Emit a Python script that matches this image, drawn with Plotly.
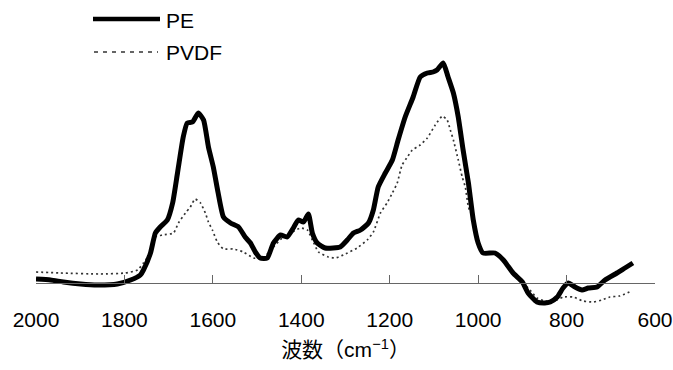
import plotly.graph_objects as go

# Wavenumber (cm^-1) and absorbance-like values (arbitrary units)
pe_wn = [2000, 1967, 1938, 1899, 1861, 1816, 1786, 1764, 1757, 1741, 1730, 1719, 1703, 1691,
         1680, 1667, 1658, 1646, 1633, 1621, 1610, 1599, 1588, 1576, 1560, 1542, 1527, 1515,
         1504, 1493, 1477, 1463, 1447, 1432, 1418, 1407, 1395, 1384, 1375, 1364, 1346, 1328,
         1312, 1296, 1282, 1266, 1248, 1237, 1226, 1210, 1194, 1181, 1165, 1147, 1131, 1115,
         1102, 1093, 1079, 1068, 1056, 1045, 1034, 1022, 1011, 1000, 989, 962, 943, 921, 900,
         887, 867, 849, 837, 821, 808, 796, 781, 765, 751, 731, 713, 686, 668, 650]
pe_val = [0.004, 0.003, 0.001, -0.001, -0.002, -0.001, 0.003, 0.008, 0.013, 0.030, 0.050, 0.056,
          0.063, 0.080, 0.110, 0.146, 0.160, 0.161, 0.170, 0.163, 0.136, 0.116, 0.090, 0.066,
          0.060, 0.056, 0.046, 0.040, 0.031, 0.025, 0.025, 0.040, 0.048, 0.046, 0.055, 0.063,
          0.061, 0.069, 0.050, 0.040, 0.035, 0.035, 0.036, 0.043, 0.050, 0.053, 0.060, 0.073,
          0.096, 0.110, 0.123, 0.143, 0.166, 0.186, 0.206, 0.210, 0.211, 0.213, 0.220, 0.206,
          0.190, 0.166, 0.133, 0.100, 0.063, 0.040, 0.030, 0.030, 0.023, 0.010, 0.001, -0.010,
          -0.019, -0.020, -0.019, -0.014, -0.005, 0.000, -0.004, -0.007, -0.005, -0.004, 0.003,
          0.010, 0.015, 0.020]

pvdf_wn = [2000, 1945, 1854, 1798, 1770, 1757, 1741, 1730, 1714, 1689, 1678, 1662, 1651, 1640,
           1628, 1617, 1610, 1601, 1590, 1576, 1554, 1531, 1508, 1486, 1463, 1441, 1420, 1402,
           1386, 1375, 1361, 1339, 1323, 1305, 1274, 1251, 1237, 1221, 1206, 1194, 1183, 1172,
           1160, 1149, 1131, 1115, 1097, 1081, 1070, 1063, 1056, 1045, 1036, 1029, 1022, 1013,
           1000, 989, 962, 943, 921, 900, 883, 867, 849, 821, 808, 785, 763, 740, 720, 702, 680,
           653]
pvdf_val = [0.011, 0.010, 0.009, 0.010, 0.013, 0.020, 0.030, 0.046, 0.048, 0.050, 0.060, 0.070,
            0.076, 0.084, 0.080, 0.070, 0.061, 0.053, 0.041, 0.034, 0.034, 0.031, 0.025, 0.025,
            0.036, 0.046, 0.051, 0.055, 0.053, 0.043, 0.031, 0.026, 0.025, 0.028, 0.035, 0.043,
            0.051, 0.070, 0.080, 0.090, 0.100, 0.118, 0.126, 0.133, 0.138, 0.145, 0.158, 0.167,
            0.163, 0.153, 0.143, 0.123, 0.106, 0.096, 0.076, 0.066, 0.041, 0.031, 0.030, 0.023,
            0.011, 0.001, -0.007, -0.015, -0.018, -0.017, -0.014, -0.014, -0.018, -0.019, -0.017,
            -0.014, -0.013, -0.008]

x_ticks = [2000, 1800, 1600, 1400, 1200, 1000, 800, 600]
series_names = ["PE", "PVDF"]

W, H = 673, 370
ML, MR, MT, MB = 36, 18, 50, 55
plot_w = W - ML - MR
plot_h = H - MT - MB
axis_px = 283  # pixel row of the baseline axis

fig = go.Figure()
fig.add_trace(go.Scatter(x=pvdf_wn, y=pvdf_val, mode="lines", name=series_names[1],
                         line=dict(color="#333333", width=1.7, dash="2px,3px",
                                   shape="spline", smoothing=0.5),
                         showlegend=False))
fig.add_trace(go.Scatter(x=pe_wn, y=pe_val, mode="lines", name=series_names[0],
                         line=dict(color="#000000", width=5, shape="spline", smoothing=0.5),
                         showlegend=False))

font_fam = "Liberation Sans, Arial, Noto Sans CJK JP, sans-serif"

# manual legend (paper coordinates)
def px_x(p):
    return (p - ML) / plot_w

def px_y(p):
    return (H - MB - p) / plot_h

fig.add_shape(type="line", xref="paper", yref="paper",
              x0=px_x(93), x1=px_x(160), y0=px_y(19), y1=px_y(19),
              line=dict(color="#000000", width=4.5))
fig.add_shape(type="line", xref="paper", yref="paper",
              x0=px_x(94), x1=px_x(158), y0=px_y(52), y1=px_y(52),
              line=dict(color="#333333", width=1.5, dash="4px,5px"))
fig.add_annotation(xref="paper", yref="paper", x=px_x(164), y=px_y(20), text=series_names[0],
                   showarrow=False, xanchor="left", yanchor="middle",
                   font=dict(size=21, color="#000000", family=font_fam))
fig.add_annotation(xref="paper", yref="paper", x=px_x(164), y=px_y(52), text=series_names[1],
                   showarrow=False, xanchor="left", yanchor="middle",
                   font=dict(size=21, color="#000000", family=font_fam))

y_top = (axis_px - MT) / 1000.0
y_bot = -(H - MB - axis_px) / 1000.0

fig.update_layout(
    width=W, height=H,
    margin=dict(l=ML, r=MR, t=MT, b=MB, pad=0),
    paper_bgcolor="white", plot_bgcolor="white",
    font=dict(family=font_fam, color="#000000"),
    xaxis=dict(range=[2000, 600], tickvals=x_ticks, ticktext=[str(t) for t in x_ticks],
               anchor="free", position=px_y(axis_px),
               ticks="inside", ticklen=8, tickwidth=1, tickcolor="#666666",
               showline=True, linecolor="#666666", linewidth=1,
               showgrid=False, zeroline=False, automargin=False,
               ticklabelstandoff=18,
               tickfont=dict(size=21, color="#000000", family=font_fam),
               title=dict(text="波数（cm<sup>−1</sup>）", standoff=12,
                          font=dict(size=21, color="#000000", family=font_fam))),
    yaxis=dict(range=[y_bot, y_top], visible=False, showgrid=False, zeroline=False,
               automargin=False, domain=[0, 1]),
)

fig.write_html("out.html")
